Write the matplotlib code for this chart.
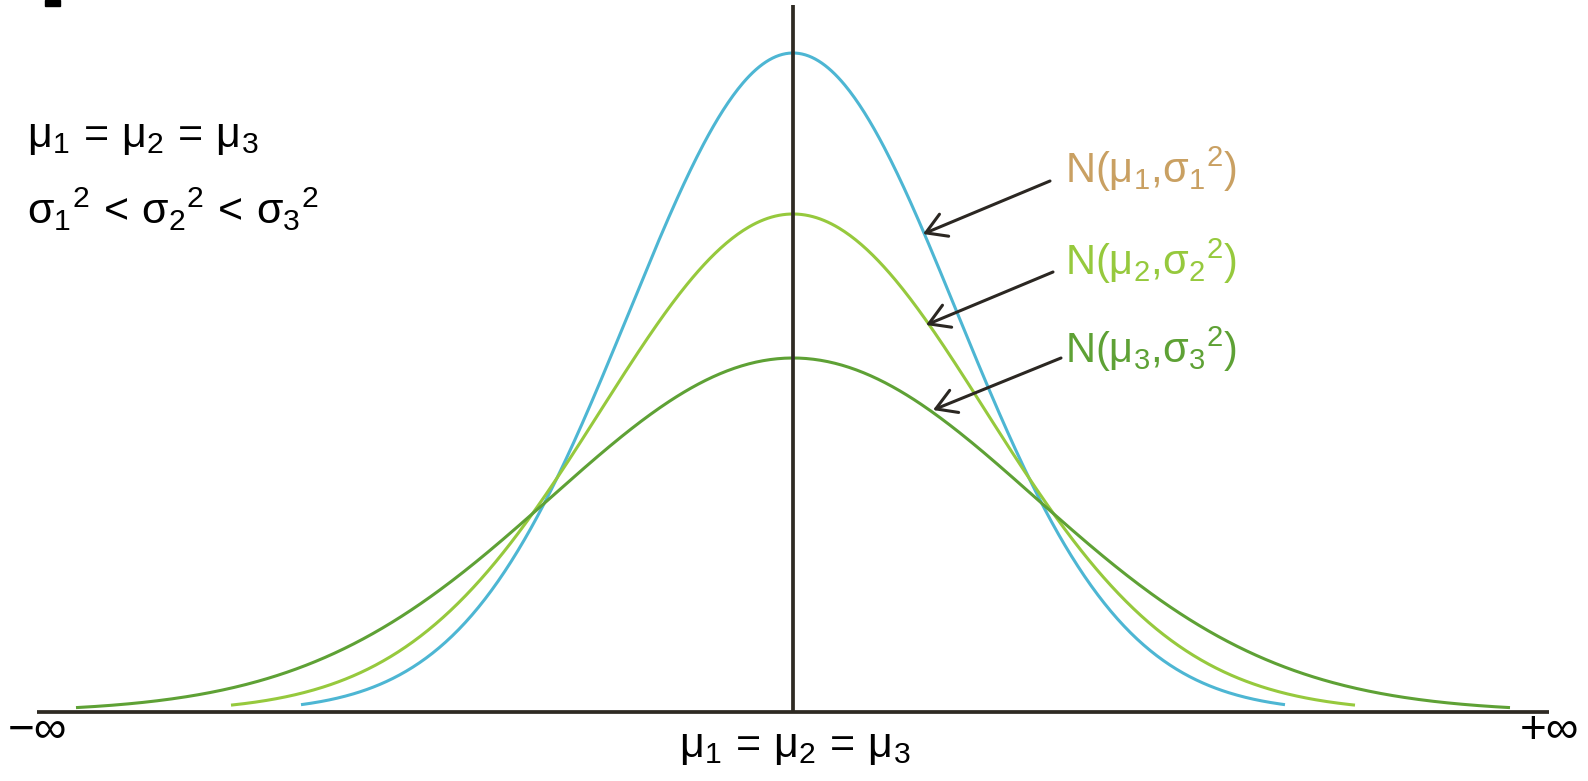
import numpy as np
import matplotlib
matplotlib.use("Agg")
import matplotlib.pyplot as plt
from matplotlib.patches import FancyArrowPatch, Rectangle

# three normal curves, same mean, growing variance (x in units of 100 px)
names = ["N1", "N2", "N3"]
means = [0.0, 0.0, 0.0]
sigmas = [1.64, 1.92, 2.42]
peaks = [6.59, 4.98, 3.54]
half_spans = [4.92, 5.62, 7.17]
colors = ["#4DB6D3", "#96C93D", "#5EA135"]

labels = [r"$N(μ_1{,}σ_1{}^2)$", r"$N(μ_2{,}σ_2{}^2)$", r"$N(μ_3{,}σ_3{}^2)$"]
label_colors = ["#C9A062", "#96C93D", "#5EA135"]
label_y = [5.29, 4.37, 3.49]
arrow_start = [(2.57, 5.31), (2.60, 4.40), (2.68, 3.54)]
arrow_end = [(1.30, 4.78), (1.33, 3.87), (1.40, 3.02)]

plt.rcParams["font.family"] = ["Liberation Sans", "DejaVu Sans"]
plt.rcParams["mathtext.fontset"] = "custom"
plt.rcParams["mathtext.rm"] = "Liberation Sans"
plt.rcParams["mathtext.it"] = "Liberation Sans"
plt.rcParams["mathtext.default"] = "regular"

axis_col = "#2E2A23"

fig = plt.figure(figsize=(15.88, 7.81), dpi=100)
ax = fig.add_axes([0, 0, 1, 1])
ax.set_xlim(-7.93, 7.95)
ax.set_ylim(-0.69, 7.12)
ax.axis("off")

for mu, s, a, h, c in zip(means, sigmas, peaks, half_spans, colors):
    x = np.linspace(mu - h, mu + h, 600)
    y = a * np.exp(-(x - mu) ** 2 / (2 * s ** 2))
    ax.plot(x, y, color=c, lw=2.2, solid_capstyle="butt", zorder=3)

ax.plot([-7.56, 7.56], [0, 0], color=axis_col, lw=2.7, solid_capstyle="butt", zorder=2)
ax.plot([0, 0], [0, 7.07], color=axis_col, lw=2.7, solid_capstyle="butt", zorder=4)

for lab, lc, ly, p0, p1 in zip(labels, label_colors, label_y, arrow_start, arrow_end):
    ax.text(2.72, ly, lab, color=lc, fontsize=30, va="baseline", ha="left")
    ax.add_patch(FancyArrowPatch(p0, p1, arrowstyle="->,head_length=0.55,head_width=0.33",
                                 mutation_scale=26, lw=2.2, color="#2B2722",
                                 shrinkA=0, shrinkB=0, zorder=5))

eq_text = r"$μ_1\,=\,μ_2\,=\,μ_3$"
ax.text(-7.66, 5.65, eq_text, fontsize=31, va="baseline", ha="left")
ax.text(-7.66, 4.88, r"$σ_1{}^2\,<\,σ_2{}^2\,<\,σ_3{}^2$", fontsize=31,
        va="baseline", ha="left")
ax.text(0.02, -0.45, eq_text, fontsize=31, va="baseline", ha="center")
ax.text(-7.55, -0.31, "−∞", fontsize=33, va="baseline", ha="center")
ax.text(7.57, -0.31, "+∞", fontsize=33, va="baseline", ha="center")

fig.patches.append(Rectangle((45 / 1588, 1 - 6 / 781), 15 / 1588, 6 / 781,
                             transform=fig.transFigure, color="black"))

fig.savefig("out.png", dpi=100)
